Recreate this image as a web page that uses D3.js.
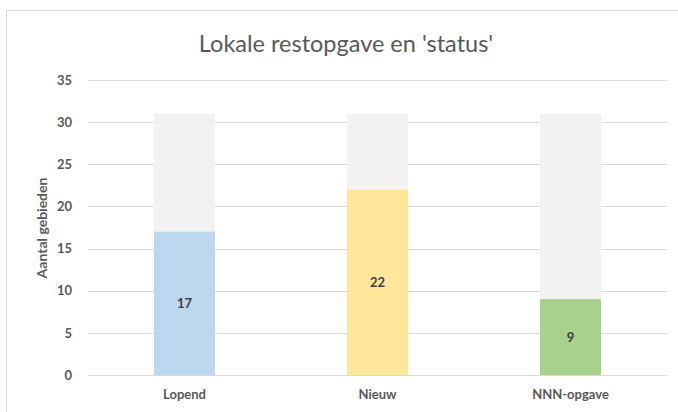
<!DOCTYPE html>
<html>
<head>
<meta charset="utf-8">
<script src="https://cdn.jsdelivr.net/npm/d3@7"></script>
<style>
    body { margin: 0; background: #fff; }
    svg { display: block; font-family: Lato, "Open Sans", sans-serif; }
</style>
</head>
<body>
<svg id="chart" width="678" height="412"></svg>
<script>
// Data
const categories = ['Lopend', 'Nieuw', 'NNN-opgave'];
const values = [17, 22, 9];
const totals = [31, 31, 31];
const barColors = ['#BDD7EE', '#FFE699', '#A9D18E'];
const yTicks = [0, 5, 10, 15, 20, 25, 30, 35];

const svg = d3.select('#chart');

// Frame
svg.append('rect')
    .attr('x', 6.5).attr('y', 10.5)
    .attr('width', 700).attr('height', 420)
    .attr('fill', '#fff')
    .attr('stroke', '#D9D9D9');

const margin = { left: 88, right: 11, top: 80, bottom: 37 };
const width = 678 - margin.left - margin.right;
const height = 412 - margin.top - margin.bottom;

const g = svg.append('g').attr('transform', 'translate(' + margin.left + ',' + margin.top + ')');

const x = d3.scaleBand().domain(categories).range([0, width]).paddingInner(0.684).paddingOuter(0.342);
const y = d3.scaleLinear().domain([0, 35]).range([height, 0]);

// Gridlines
g.selectAll('line.grid')
    .data(yTicks)
    .enter()
    .append('line')
    .attr('class', 'grid')
    .attr('x1', 0).attr('x2', width)
    .attr('y1', (d) => Math.round(y(d)) + 0.5)
    .attr('y2', (d) => Math.round(y(d)) + 0.5)
    .attr('stroke', '#D9D9D9')
    .attr('stroke-width', 1);

// Background bars
g.selectAll('rect.bg')
    .data(categories)
    .enter()
    .append('rect')
    .attr('class', 'bg')
    .attr('x', (d) => x(d))
    .attr('width', x.bandwidth())
    .attr('y', (d, i) => y(totals[i]))
    .attr('height', (d, i) => y(0) - y(totals[i]))
    .attr('fill', '#F2F2F2');

// Value bars
g.selectAll('rect.val')
    .data(categories)
    .enter()
    .append('rect')
    .attr('class', 'val')
    .attr('x', (d) => x(d))
    .attr('width', x.bandwidth())
    .attr('y', (d, i) => y(values[i]))
    .attr('height', (d, i) => y(0) - y(values[i]))
    .attr('fill', (d, i) => barColors[i]);

// Value labels
g.selectAll('text.val')
    .data(categories)
    .enter()
    .append('text')
    .attr('x', (d) => x(d) + x.bandwidth() / 2)
    .attr('y', (d, i) => y(values[i] / 2))
    .attr('dy', '0.35em')
    .attr('text-anchor', 'middle')
    .attr('font-size', 13)
    .attr('font-weight', 'bold')
    .attr('fill', '#404040')
    .text((d, i) => values[i]);

// Y axis
const yAxis = g.append('g')
    .call(d3.axisLeft(y).tickValues(yTicks).tickSize(0).tickPadding(16));
yAxis.select('.domain').remove();
yAxis.selectAll('text')
    .attr('font-size', 13)
    .attr('font-weight', 'bold')
    .attr('font-family', 'Lato, "Open Sans", sans-serif')
    .attr('fill', '#595959');

// X axis
const xAxis = g.append('g')
    .attr('transform', 'translate(0,' + height + ')')
    .call(d3.axisBottom(x).tickSize(0).tickPadding(15));
xAxis.select('.domain').remove();
xAxis.selectAll('text')
    .attr('font-size', 13)
    .attr('font-weight', 'bold')
    .attr('font-family', 'Lato, "Open Sans", sans-serif')
    .attr('fill', '#595959');

// Y axis title
svg.append('text')
    .attr('transform', 'translate(47,228) rotate(-90)')
    .attr('text-anchor', 'middle')
    .attr('font-size', 14)
    .attr('font-weight', 'bold')
    .attr('fill', '#595959')
    .text('Aantal gebieden');

// Title
svg.append('text')
    .attr('x', 346)
    .attr('y', 52)
    .attr('text-anchor', 'middle')
    .attr('font-size', 23.5)
    .attr('fill', '#595959')
    .text("Lokale restopgave en 'status'");
</script>
</body>
</html>
